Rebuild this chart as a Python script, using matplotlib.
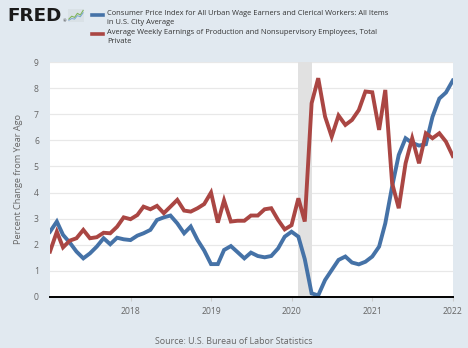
import matplotlib
matplotlib.use("Agg")
import matplotlib.pyplot as plt
import matplotlib.dates as mdates
import pandas as pd

# --- data: monthly, Jan 2017 .. Jan 2022 (percent change from year ago) ---
months = pd.date_range("2017-01-01", "2022-01-01", freq="MS")

cpi_w = [
    2.50, 2.89, 2.38, 2.08, 1.74, 1.48, 1.67, 1.93, 2.25, 2.02, 2.27, 2.21,   # 2017
    2.18, 2.35, 2.44, 2.57, 2.95, 3.05, 3.12, 2.82, 2.44, 2.70, 2.18, 1.78,   # 2018
    1.26, 1.26, 1.80, 1.95, 1.72, 1.48, 1.70, 1.57, 1.52, 1.57, 1.86, 2.31,   # 2019
    2.50, 2.31, 1.45, 0.14, 0.06, 0.65, 1.03, 1.42, 1.55, 1.32, 1.25, 1.35,   # 2020
    1.55, 1.93, 2.82, 4.23, 5.44, 6.08, 5.90, 5.80, 5.85, 6.90, 7.60, 7.83,   # 2021
    8.29,                                                                     # 2022
]

earnings = [
    1.74, 2.50, 1.90, 2.16, 2.25, 2.57, 2.25, 2.29, 2.46, 2.44, 2.69, 3.05,   # 2017
    2.98, 3.14, 3.46, 3.36, 3.49, 3.21, 3.46, 3.72, 3.31, 3.27, 3.40, 3.56,   # 2018
    4.00, 2.85, 3.70, 2.89, 2.92, 2.92, 3.12, 3.12, 3.36, 3.40, 2.95, 2.59,   # 2019
    2.75, 3.78, 2.89, 7.42, 8.38, 6.91, 6.14, 6.95, 6.59, 6.78, 7.16, 7.87,   # 2020
    7.84, 6.40, 7.93, 4.36, 3.40, 5.12, 6.08, 5.12, 6.27, 6.08, 6.27, 5.95,   # 2021
    5.40,                                                                     # 2022
]

recession = ("2020-02-01", "2020-04-01")
year_ticks = ["2018", "2019", "2020", "2021", "2022"]

cpi_label = ("Consumer Price Index for All Urban Wage Earners and Clerical Workers: All Items\n"
             "in U.S. City Average")
earn_label = ("Average Weekly Earnings of Production and Nonsupervisory Employees, Total\n"
              "Private")
y_label = "Percent Change from Year Ago"
source = "Source: U.S. Bureau of Labor Statistics"

# --- styling ---
BG = "#e1e9f0"
BLUE = "#4572a7"
RED = "#aa4643"
TXT = "#333333"
TICK = "#666666"
FONT = ["Open Sans", "DejaVu Sans"]

plt.rcParams["font.family"] = FONT

fig = plt.figure(figsize=(4.68, 3.48), dpi=100, facecolor=BG)
ax = fig.add_axes([50 / 468, 1 - 297 / 348, 403 / 468, 235 / 348])
ax.set_facecolor("white")

ax.axvspan(pd.Timestamp(recession[0]), pd.Timestamp(recession[1]),
           color="#e1e1e1", lw=0, zorder=1)
ax.plot(months, cpi_w, color=BLUE, lw=2.8, zorder=3, solid_joinstyle="miter")
ax.plot(months, earnings, color=RED, lw=2.8, zorder=3, solid_joinstyle="miter")

ax.set_xlim(pd.Timestamp("2017-01-01"), pd.Timestamp("2022-01-02"))
ax.set_ylim(0, 9)
ax.set_yticks(range(0, 10))
ax.set_xticks([pd.Timestamp(y + "-01-01") for y in year_ticks])
ax.xaxis.set_major_formatter(mdates.DateFormatter("%Y"))
ax.grid(axis="y", color="#e8e8e8", lw=0.9, zorder=0)
ax.set_axisbelow(True)

for s in ["top", "right", "left"]:
    ax.spines[s].set_visible(False)
ax.spines["bottom"].set_color("black")
ax.spines["bottom"].set_linewidth(1.4)
ax.spines["bottom"].set_zorder(4)

ax.tick_params(axis="y", length=0, labelsize=6.2, labelcolor=TICK, pad=8)
ax.tick_params(axis="x", length=3, color="#cccccc", labelsize=6.2, labelcolor=TICK, pad=4)
ax.set_ylabel(y_label, fontsize=6.6, color=TICK, labelpad=8)

# --- header: logo and legend ---
fig.text(7 / 468, 1 - 16 / 348, "FRED", family="DejaVu Sans", weight="heavy",
         fontsize=13.2, color="#1a1a1a", va="center", ha="left")
fig.text(63 / 468, 1 - 21 / 348, "®", fontsize=3, color="#1a1a1a", va="center")

# small chart icon next to the logo
icon = fig.add_axes([68 / 468, 1 - 22 / 348, 16 / 468, 13 / 348])
icon.set_facecolor("#d9e1e6")
icon.plot([0, 1, 2, 3, 4, 5], [1.0, 2.0, 1.6, 3.0, 2.4, 4.0], color="#7fb55a", lw=0.8)
icon.plot([0, 1, 2, 3, 4, 5], [0.6, 1.2, 1.0, 2.2, 1.8, 3.2], color="#6f9fcc", lw=0.6)
icon.set_xlim(-0.3, 5.3)
icon.set_ylim(0, 4.5)
icon.set_xticks([])
icon.set_yticks([])
for s in icon.spines.values():
    s.set_visible(False)

fig.add_artist(plt.Line2D([92 / 468, 103 / 468], [1 - 14.5 / 348] * 2,
                          color=BLUE, lw=2.6, transform=fig.transFigure))
fig.add_artist(plt.Line2D([92 / 468, 103 / 468], [1 - 34 / 348] * 2,
                          color=RED, lw=2.6, transform=fig.transFigure))
fig.text(107 / 468, 1 - 10 / 348, cpi_label, fontsize=5.45, color=TXT,
         va="top", ha="left", linespacing=1.35)
fig.text(107 / 468, 1 - 29.5 / 348, earn_label, fontsize=5.45, color=TXT,
         va="top", ha="left", linespacing=1.35)

fig.text(234 / 468, 1 - 341 / 348, source, fontsize=6.4, color=TICK,
         ha="center", va="center")

fig.savefig("out.png", dpi=100, facecolor=BG)
